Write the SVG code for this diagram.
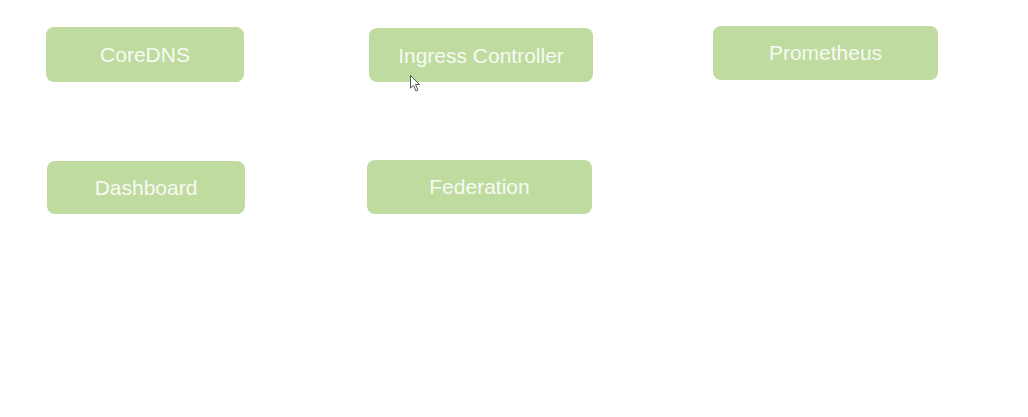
<svg xmlns="http://www.w3.org/2000/svg" width="1028" height="417" viewBox="0 0 1028 417">
<style>
.box{fill:#BFDBA0;}
.lbl{font-family:"Liberation Sans",Arial,sans-serif;font-size:21px;fill:#F7FAF2;text-anchor:middle;}
</style>
<rect width="1028" height="417" fill="#FFFFFF"/>
<g id="connectors"></g>
<g id="coredns"><rect class="box" x="46" y="27" width="198" height="55" rx="8"/><text class="lbl" x="145" y="62">CoreDNS</text></g>
<g id="ingress"><rect class="box" x="369" y="28" width="224" height="54" rx="8"/><text class="lbl" x="481" y="63">Ingress Controller</text></g>
<g id="prometheus"><rect class="box" x="713" y="26" width="225" height="54" rx="8"/><text class="lbl" x="825.500" y="60">Prometheus</text></g>
<g id="dashboard"><rect class="box" x="47" y="161" width="198" height="53" rx="8"/><text class="lbl" x="146" y="195">Dashboard</text></g>
<g id="federation"><rect class="box" x="367" y="160" width="225" height="54" rx="8"/><text class="lbl" x="479.500" y="194">Federation</text></g>
<path d="M410.500,75.500 L410.500,88 L413.500,85.500 L416,91 L418,90 L415.500,84.500 L419.500,84.500 Z" fill="#FFFFFF" stroke="#555555" stroke-width="1"/>
</svg>
